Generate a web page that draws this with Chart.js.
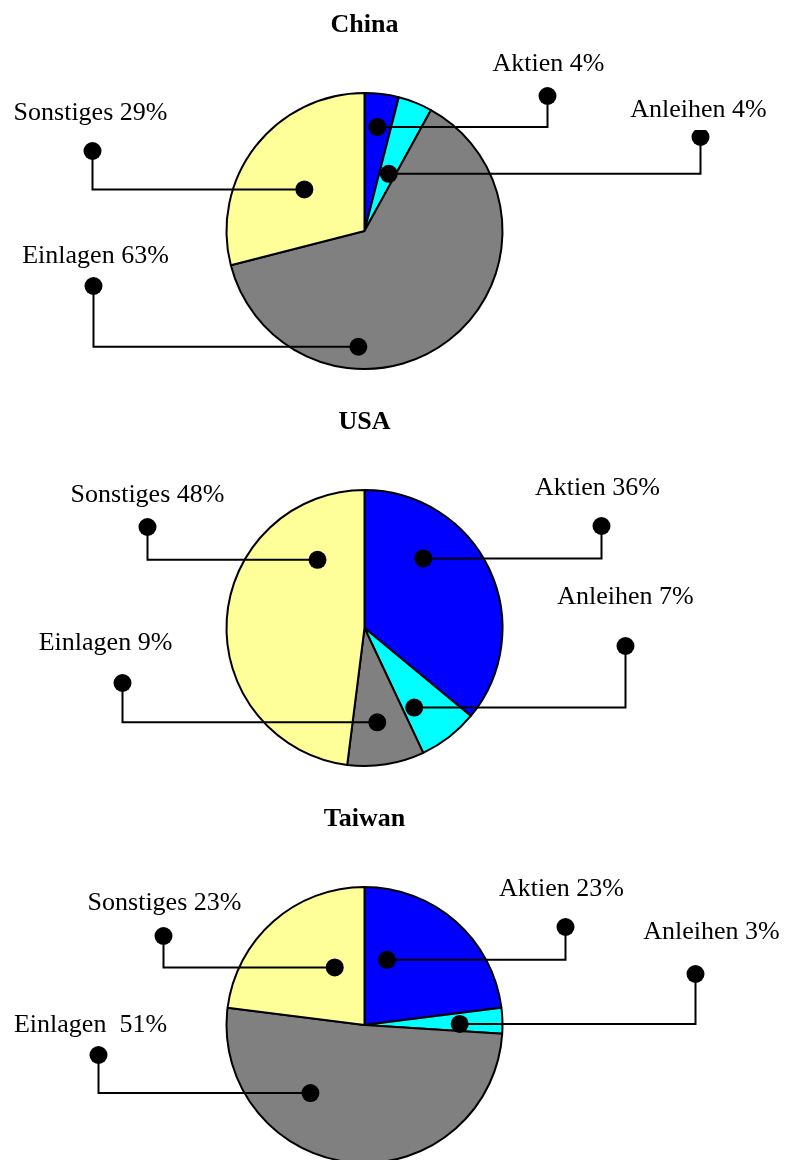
<!DOCTYPE html>
<html>
<head>
    <script src="https://cdn.jsdelivr.net/npm/chart.js"></script>
    <title>Geldvermögen</title>
    <style>
        html, body { margin: 0; padding: 0; background: #fff; overflow: hidden; }
        canvas { display: block; }
    </style>
</head>
<body>
    <canvas id="pieChina" width="787" height="397"></canvas>
    <canvas id="pieUSA" width="787" height="397"></canvas>
    <canvas id="pieTaiwan" width="787" height="397"></canvas>

    <script>
        // data
        const categories = ['Aktien', 'Anleihen', 'Einlagen', 'Sonstiges'];
        const countries = ['China', 'USA', 'Taiwan'];
        const chinaValues = [4, 4, 63, 29];
        const usaValues = [36, 7, 9, 48];
        const taiwanValues = [23, 3, 51, 23];
        const sliceColors = ['#0000ff', '#00ffff', '#808080', '#ffff99'];

        // where the callouts sit, in pixels from the pie centre;
        // along/depth place the inner dot inside its own slice
        const chinaCallouts = [
            { text: [184, -160], dot: [183, -135], along: 0.49, depth: 0.76 },
            { text: [334, -114], dot: [336, -94], along: 0.60, depth: 0.45 },
            { text: [-269, 32], dot: [-271, 55], along: 0.68, depth: 0.84 },
            { text: [-274, -111], dot: [-272, -80], along: 0.47, depth: 0.53 }
        ];
        const usaCallouts = [
            { text: [233, -133], dot: [237, -102], along: 0.31, depth: 0.66 },
            { text: [261, -24], dot: [261, 18], along: 0.73, depth: 0.68 },
            { text: [-259, 22], dot: [-242, 55], along: 0.54, depth: 0.69 },
            { text: [-217, -126], dot: [-217, -101], along: 0.80, depth: 0.60 }
        ];
        const taiwanCallouts = [
            { text: [197, -129], dot: [201, -98], along: 0.23, depth: 0.50 },
            { text: [347, -86], dot: [331, -51], along: 0.61, depth: 0.69 },
            { text: [-274, 7], dot: [-266, 30], along: 0.68, depth: 0.63, sep: '  ' },
            { text: [-200, -115], dot: [-201, -89], along: 0.67, depth: 0.47 }
        ];

        const labelFont = '26px "Liberation Serif", "Times New Roman", serif';

        function makeCallouts(layout) {
            return {
                id: 'callouts',
                afterDatasetsDraw(chart) {
                    const ctx = chart.ctx;
                    const arcs = chart.getDatasetMeta(0).data;
                    const values = chart.data.datasets[0].data;
                    ctx.save();
                    ctx.strokeStyle = '#000';
                    ctx.fillStyle = '#000';
                    ctx.lineWidth = 2;
                    ctx.font = labelFont;
                    layout.forEach((c, i) => {
                        const arc = arcs[i];
                        const p = arc.getProps(['x', 'y', 'startAngle', 'endAngle', 'outerRadius'], true);
                        const a = p.startAngle + c.along * (p.endAngle - p.startAngle);
                        const ix = p.x + Math.cos(a) * p.outerRadius * c.depth;
                        const iy = p.y + Math.sin(a) * p.outerRadius * c.depth;
                        const ox = p.x + c.dot[0];
                        const oy = p.y + c.dot[1];

                        ctx.beginPath();
                        ctx.moveTo(ox, oy);
                        ctx.lineTo(ox, iy);
                        ctx.lineTo(ix, iy);
                        ctx.stroke();

                        ctx.fillStyle = '#000';
                        [[ox, oy], [ix, iy]].forEach(([x, y]) => {
                            ctx.beginPath();
                            ctx.arc(x, y, 9, 0, Math.PI * 2);
                            ctx.fill();
                        });

                        // label box is opaque, it clips the dot below it like the original
                        const txt = chart.data.labels[i] + (c.sep || ' ') + values[i] + '%';
                        const tx = p.x + c.text[0];
                        const ty = p.y + c.text[1];
                        const w = ctx.measureText(txt).width;
                        ctx.fillStyle = '#fff';
                        ctx.fillRect(tx - w / 2 - 3, ty - 24, w + 6, 37);
                        ctx.fillStyle = '#000';
                        ctx.textAlign = 'center';
                        ctx.textBaseline = 'alphabetic';
                        ctx.fillText(txt, tx, ty);
                    });
                    ctx.restore();
                }
            };
        }

        function drawPie(canvasId, title, values, layout) {
            const ctx = document.getElementById(canvasId).getContext('2d');
            return new Chart(ctx, {
                type: 'pie',
                data: {
                    labels: categories,
                    datasets: [{
                        data: values,
                        backgroundColor: sliceColors,
                        borderColor: '#000',
                        borderWidth: 2
                    }]
                },
                options: {
                    responsive: false,
                    animation: false,
                    events: [],
                    radius: 138,
                    layout: { padding: { left: 0, right: 58, top: 0, bottom: 0 } },
                    plugins: {
                        legend: { display: false },
                        tooltip: { enabled: false },
                        title: {
                            display: true,
                            text: title,
                            color: '#000',
                            font: { family: '"Liberation Serif", "Times New Roman", serif', size: 26, weight: 'bold' },
                            padding: { top: 10, bottom: 23.8 }
                        }
                    }
                },
                plugins: [makeCallouts(layout)]
            });
        }

        drawPie('pieChina', countries[0], chinaValues, chinaCallouts);
        drawPie('pieUSA', countries[1], usaValues, usaCallouts);
        drawPie('pieTaiwan', countries[2], taiwanValues, taiwanCallouts);
    </script>
</body>
</html>
